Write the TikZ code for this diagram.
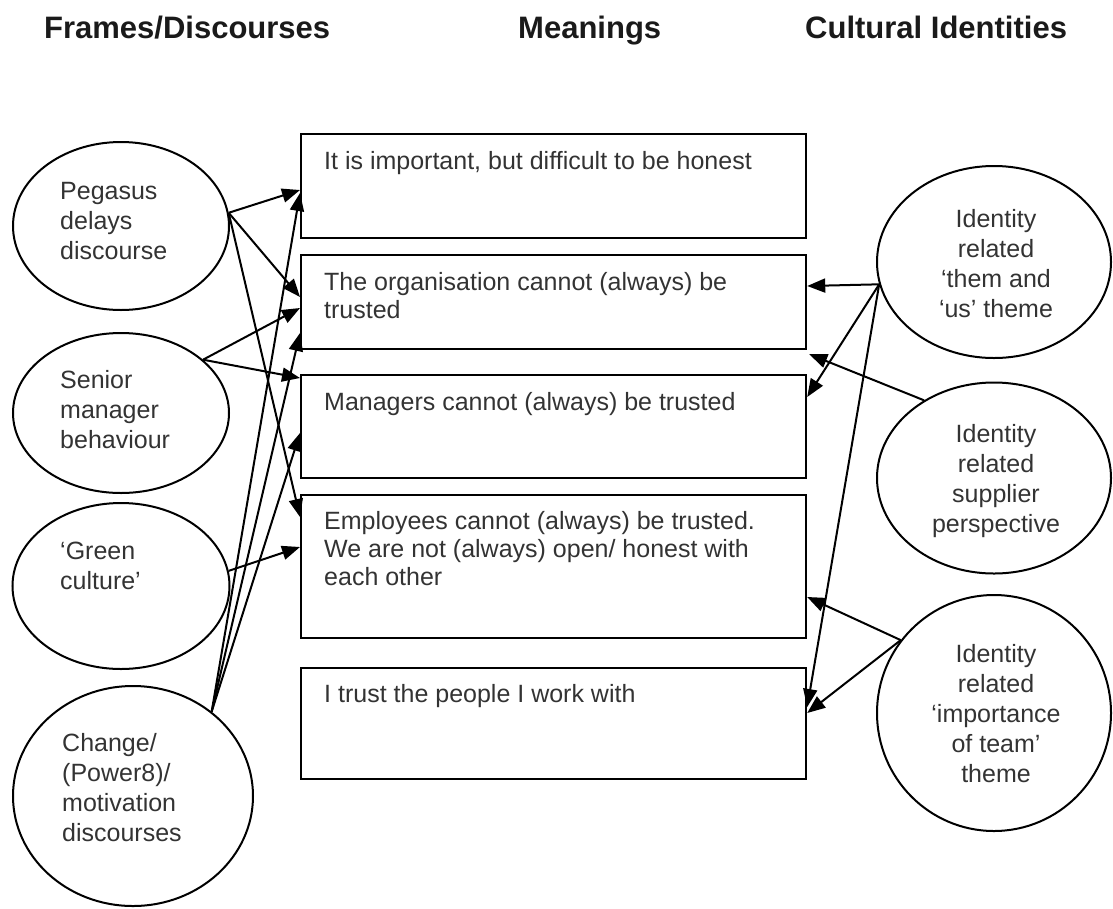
\documentclass[tikz,border=0pt]{standalone}
\usepackage{fontspec}
\setmainfont{Liberation Sans}
\usetikzlibrary{shapes.geometric,arrows.meta,calc}
\definecolor{txt}{HTML}{333333}
\definecolor{ttl}{HTML}{1A1A1A}
\begin{document}
\begin{tikzpicture}[x=1pt,y=-1pt,
  ell/.style={draw, ellipse, line width=2pt, inner sep=0pt},
  mbox/.style={draw, rectangle, line width=2.2pt, inner sep=0pt, anchor=north west, minimum width=505},
  ltxt/.style={anchor=base west, align=left, inner sep=0pt, text=txt, font=\fontsize{25}{30}\selectfont},
  ctxt/.style={anchor=base, align=center, inner sep=0pt, text=txt, font=\fontsize{25}{30}\selectfont},
  btxt/.style={anchor=base west, align=left, inner sep=0pt, text=txt, font=\fontsize{25}{28}\selectfont},
  ttitle/.style={anchor=base west, inner sep=0pt, text=ttl, font=\fontsize{31}{36}\selectfont\bfseries},
  arr/.style={-{Triangle[length=18pt,width=14pt]}, line width=2pt}
]
\useasboundingbox (0,0) rectangle (1113,908);

% titles
\node[ttitle] (t1) at (44,38) {Frames/Discourses};
\node[ttitle] (t2) at (518,38) {Meanings};
\node[ttitle] (t3) at (805,38) {Cultural Identities};

% left ellipses (text nodes anchored at the baseline of their last line)
\node[ell, minimum width=216, minimum height=168] (pe) at (121,226) {};
\node[ell, minimum width=216, minimum height=160] (se) at (121,413) {};
\node[ell, minimum width=217, minimum height=166] (ge) at (121,586) {};
\node[ell, minimum width=240, minimum height=220] (ce) at (133,796) {};
\node[ltxt] (pet) at (60,259) {Pegasus\\delays\\discourse};
\node[ltxt] (set) at (60,448) {Senior\\manager\\behaviour};
\node[ltxt] (get) at (60,589) {‘Green\\culture’};
\node[ltxt] (cet) at (62,841) {Change/\\(Power8)/\\motivation\\discourses};

% boxes
\node[mbox, minimum height=104] (b1) at (300,133) {};
\node[mbox, minimum height=94]  (b2) at (300,254) {};
\node[mbox, minimum height=103] (b3) at (300,374) {};
\node[mbox, minimum height=143] (b4) at (300,494) {};
\node[mbox, minimum height=111] (b5) at (300,667) {};
\node[btxt] (b1t) at (324,169) {It is important, but difficult to be honest};
\node[btxt] (b2t) at (324,318) {The organisation cannot (always) be\\trusted};
\node[btxt] (b3t) at (324,410) {Managers cannot (always) be trusted};
\node[btxt] (b4t) at (324,585) {Employees cannot (always) be trusted.\\We are not (always) open/ honest with\\each other};
\node[btxt] (b5t) at (324,702) {I trust the people I work with};

% right ellipses
\node[ell, minimum width=234, minimum height=192] (ia) at (994,262) {};
\node[ell, minimum width=234, minimum height=191] (ib) at (994,478) {};
\node[ell, minimum width=234, minimum height=236] (ic) at (994,713) {};
\node[ctxt] (iat) at (996,317) {Identity\\related\\‘them and\\‘us’ theme};
\node[ctxt] (ibt) at (996,532) {Identity\\related\\supplier\\perspective};
\node[ctxt] (ict) at (996,782) {Identity\\related\\‘importance\\of team’\\theme};

% left connectors
\draw[arr] (pe.7.5) -- ($(b1.north west)+(0,57)$);
\draw[arr] (pe.7.5) -- ($(b2.north west)+(0,43)$);
\draw[arr] (pe.7.5) -- ($(b4.north west)+(0,23)$);
\draw[arr] (se.33.7) -- ($(b2.north west)+(0,54)$);
\draw[arr] (se.33.7) -- ($(b3.north west)+(0,4)$);
\draw[arr] (ge.8.4) -- ($(b4.north west)+(0,53)$);
\draw[arr] (ce.47.3) -- ($(b1.north west)+(0,60)$);
\draw[arr] (ce.47.3) -- ($(b2.north west)+(0,79)$);
\draw[arr] (ce.47.3) -- ($(b3.north west)+(0,59)$);

% right connectors
\draw[arr] (ia.191.6) -- ($(b2.north east)+(0,32)$);
\draw[arr] (ia.191.6) -- ($(b3.north east)+(0,23)$);
\draw[arr] (ia.191.6) -- ($(b5.north east)+(0,40)$);
\draw[arr] (ib.132.2) -- ($(b2.south east)+(2,4)$);
\draw[arr] (ic.142.9) -- ($(b4.north east)+(0,103)$);
\draw[arr] (ic.142.9) -- ($(b5.north east)+(0,46)$);
\end{tikzpicture}
\end{document}
